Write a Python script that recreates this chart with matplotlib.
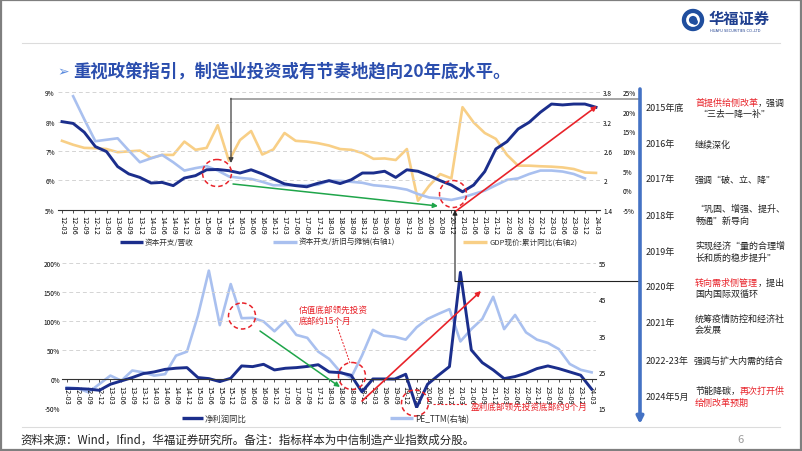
import numpy as np
import matplotlib
matplotlib.use('Agg')
import matplotlib.pyplot as plt
from matplotlib.patches import Ellipse, Rectangle, Circle

plt.rcParams['font.family'] = ['Noto Sans CJK SC', 'DejaVu Sans']
plt.rcParams['axes.unicode_minus'] = False

# ---------------- data ----------------
quarters = ['12-03', '12-06', '12-09', '12-12', '13-03', '13-06', '13-09', '13-12',
            '14-03', '14-06', '14-09', '14-12', '15-03', '15-06', '15-09', '15-12',
            '16-03', '16-06', '16-09', '16-12', '17-03', '17-06', '17-09', '17-12',
            '18-03', '18-06', '18-09', '18-12', '19-03', '19-06', '19-09', '19-12',
            '20-03', '20-06', '20-09', '20-12', '21-03', '21-06', '21-09', '21-12',
            '22-03', '22-06', '22-09', '22-12', '23-03', '23-06', '23-09', '23-12',
            '24-03']

# top chart
capex_rev = [8.0, 7.94, 7.64, 7.15, 6.98, 6.47, 6.22, 6.1,
             5.91, 5.93, 5.82, 6.08, 6.16, 6.36, 6.37, 6.33,
             6.25, 6.36, 6.22, 6.05, 5.88, 5.82, 5.78, 5.9,
             5.99, 5.89, 6.02, 6.25, 6.25, 6.31, 6.1, 6.36,
             6.31, 6.16, 5.99, 5.84, 5.61, 5.84, 6.3, 7.07,
             7.32, 7.75, 7.98, 8.32, 8.6, 8.57, 8.6, 8.6,
             8.49]
capex_da = [np.nan, 3.72, 3.25, 2.80, 2.83, 2.86, 2.61, 2.37,
            2.45, 2.52, 2.37, 2.20, 2.25, 2.29, 2.20, 2.08,
            2.05, 2.03, 1.97, 1.90, 1.90, 1.90, 1.90, 1.91,
            1.99, 1.99, 1.97, 1.95, 1.90, 1.88, 1.85, 1.81,
            1.72, 1.65, 1.63, 1.60, 1.65, 1.72, 1.79, 1.90,
            2.01, 2.04, 2.13, 2.20, 2.20, 2.18, 2.13, 2.04,
            np.nan]
gdp_yoy = [12.6, 11.6, 10.8, 10.7, 10.5, 9.7, 9.9, 10.1,
           8.2, 9.0, 9.0, 12.4, 10.3, 10.8, 16.6, 7.5,
           12.8, 15.1, 9.1, 10.4, 14.6, 12.6, 12.4, 12.0,
           11.4, 10.5, 10.3, 9.5, 8.0, 8.1, 7.7, 10.5,
           -2.7, 1.1, 4.1, 3.0, 21.2, 17.3, 14.6, 13.1,
           9.0, 6.25, 6.25, 6.1, 6.0, 5.8, 5.4, 4.5,
           4.4]

# bottom chart
profit_yoy = [-16, -16, -17, -19, -8.6, -2.9, 2.9, 9.7,
              12.6, 17, 19, 20, 2.9, 1.1, -4, 1.7,
              22.9, 21.7, 25.7, 16, 18.9, 20, 22, 25,
              12.6, 11.4, 6.9, -21.7, 0.5, 0.5, 0.3, 8.6,
              -48.6, -8.6, 6.9, 21.7, 184, 50.3, 28.6, 16,
              1.1, 4.6, 10.3, 18.3, 22.9, 18.3, 12.6, 6.9,
              -17]
pe_ttm = [20.8, 20.5, 19.4, 21.7, 24.0, 22.6, 25.4, 24.9,
          24.0, 24.4, 29.5, 30.6, 40.5, 52.9, 37.9, 49.2,
          39.8, 39.9, 38.9, 36.2, 39.1, 35.2, 34.4, 30.6,
          28.6, 25.1, 23.4, 29.5, 36.6, 35.0, 34.7, 33.9,
          37.3, 39.6, 41.0, 42.3, 33.4, 36.8, 39.6, 45.7,
          36.8, 40.7, 35.9, 33.9, 33.0, 31.3, 27.2, 25.6,
          24.9]

timeline_years = ['2015年底', '2016年', '2017年', '2018年', '2019年',
                  '2020年', '2021年', '2022-23年', '2024年5月']

DARK = '#1B2E8C'
LIGHT = '#A9C0EF'
YEL = '#F8CF86'
RED = '#E8232A'
GREEN = '#1FA54A'
GRID = '#D4D4D4'

W, H = 802, 452
fig = plt.figure(figsize=(W / 100, H / 100), dpi=100)


def rect(l, t, r, b):
    return [l / W, 1 - b / H, (r - l) / W, (b - t) / H]


x = np.arange(len(quarters))
TICKFS = 4.7

# ---------------- top chart ----------------
ax1 = fig.add_axes(rect(57.55, 93.3, 600.45, 210.7))
ax1b = ax1.twinx()
ax1c = ax1.twinx()
ax1c.plot(x, gdp_yoy, color=YEL, lw=1.9, solid_joinstyle='round')
ax1b.plot(x, capex_da, color=LIGHT, lw=1.9, solid_joinstyle='round')
ax1.plot(x, capex_rev, color=DARK, lw=2.1, solid_joinstyle='round')
ax1.set_zorder(3); ax1.patch.set_visible(False)
ax1b.set_zorder(2); ax1c.set_zorder(1)

for a in (ax1, ax1b, ax1c):
    for s in ('top', 'left', 'right', 'bottom'):
        a.spines[s].set_visible(False)
ax1.spines['bottom'].set_visible(True)
ax1.spines['bottom'].set_color('#333333')
ax1.spines['bottom'].set_linewidth(0.8)

ax1.set_xlim(-0.4, len(quarters) - 0.6)
ax1.set_ylim(5, 9)
ax1.set_yticks([5, 6, 7, 8, 9])
ax1.set_yticklabels([f'{v}%' for v in [5, 6, 7, 8, 9]])
ax1.yaxis.grid(True, ls=(0, (4, 3)), color=GRID, lw=0.7)
ax1.set_axisbelow(True)
ax1.set_xticks(x)
ax1.set_xticklabels(quarters, rotation=-90, fontsize=TICKFS, family='DejaVu Sans')
ax1.tick_params(axis='x', length=2.5, width=0.6, pad=1.5, color='#333333')
ax1.tick_params(axis='y', length=0, pad=2, labelsize=TICKFS)

ax1b.set_ylim(1.4, 3.8)
ax1b.set_yticks([1.4, 2.0, 2.6, 3.2, 3.8])
ax1b.set_yticklabels(['1.4', '2', '2.6', '3.2', '3.8'])
ax1b.tick_params(axis='y', length=0, pad=2, labelsize=TICKFS)

ax1c.set_ylim(-5, 25)
ax1c.set_yticks([-5, 0, 5, 10, 15, 20, 25])
ax1c.set_yticklabels([f'{v}%' for v in [-5, 0, 5, 10, 15, 20, 25]])
ax1c.tick_params(axis='y', length=0, pad=16, labelsize=TICKFS)

# ---------------- bottom chart ----------------
ax2 = fig.add_axes(rect(62.3, 264, 596, 409.3))
ax2b = ax2.twinx()
ax2b.plot(x, pe_ttm, color=LIGHT, lw=1.9, solid_joinstyle='round')
ax2.plot(x, profit_yoy, color=DARK, lw=2.1, solid_joinstyle='round')
ax2.set_zorder(3); ax2.patch.set_visible(False)
ax2b.set_zorder(2)
for a in (ax2, ax2b):
    for s in ('top', 'left', 'right', 'bottom'):
        a.spines[s].set_visible(False)
ax2.spines['bottom'].set_position(('data', 0))
ax2.spines['bottom'].set_visible(True)
ax2.spines['bottom'].set_color('#333333')
ax2.spines['bottom'].set_linewidth(0.8)

ax2.set_xlim(-0.4, len(quarters) - 0.6)
ax2.set_ylim(-50, 200)
yt = [-50, 0, 50, 100, 150, 200]
ax2.set_yticks(yt)
ax2.set_yticklabels([f'{v}%' for v in yt])
ax2.set_axisbelow(True)
for v in [50, 100, 150, 200]:
    ax2.axhline(v, ls=(0, (4, 3)), color=GRID, lw=0.7, zorder=0)
ax2.set_xticks(x)
ax2.set_xticklabels(quarters, rotation=-90, fontsize=TICKFS, family='DejaVu Sans')
ax2.tick_params(axis='x', length=2.5, width=0.6, pad=1.5, color='#333333')
ax2.tick_params(axis='y', length=0, pad=1.5, labelsize=TICKFS)
ax2b.set_ylim(15, 55)
ax2b.set_yticks([15, 25, 35, 45, 55])
ax2b.tick_params(axis='y', length=0, pad=2, labelsize=TICKFS)

# ---------------- overlay (pixel coordinates) ----------------
ov = fig.add_axes([0, 0, 1, 1])
ov.set_xlim(0, W)
ov.set_ylim(H, 0)
ov.axis('off')
ov.set_zorder(10)

# border & separator lines
ov.add_patch(Rectangle((0.8, 0.8), W - 1.6, H - 1.6, fill=False, ec='#7F7F7F', lw=1.6))
ov.plot([22, 780], [44, 44], color='#DCDCDC', lw=0.8)
ov.plot([22, 780], [428, 428], color='#DCDCDC', lw=0.8)

# logo
ov.add_patch(Circle((693, 21), 10.5, color='#1F4E9E'))
ov.add_patch(Circle((693, 21), 5.5, fill=False, ec='white', lw=2.0))
ov.add_patch(Circle((695, 23), 2.2, color='#1F4E9E'))
ov.text(709, 18.5, '华福证券', fontsize=11, fontweight='bold', color='#1F3F8F', va='center', ha='left')
ov.text(710, 31, 'HUAFU SECURITIES CO.,LTD', fontsize=2.6, color='#1F3F8F', va='center', ha='left',
        family='DejaVu Sans')

# title
ov.text(57, 72, '➢', fontsize=10, color='#5B8BDF', va='center', ha='left', family=['DejaVu Sans'])
ov.text(73, 71, '重视政策指引，制造业投资或有节奏地趋向20年底水平。', fontsize=12.5,
        fontweight='bold', color='#2B4EAE', va='center', ha='left')

# top legend
LFS = 5.5
for (x0, x1, c, lbl) in [(120, 143, DARK, '资本开支/营收'),
                         (273, 297, LIGHT, '资本开支/折旧与摊销(右轴1)'),
                         (463, 487, YEL, 'GDP现价:累计同比(右轴2)')]:
    ov.plot([x0, x1], [243, 243], color=c, lw=2.4, solid_capstyle='butt')
    ov.text(x1 + 2, 243, lbl, fontsize=LFS, va='center', ha='left', color='#333333')

# bottom legend
for (x0, x1, c, lbl) in [(182, 203, DARK, '净利润同比'),
                         (390, 413, LIGHT, 'PE_TTM(右轴)')]:
    ov.plot([x0, x1], [419, 419], color=c, lw=2.4, solid_capstyle='butt')
    ov.text(x1 + 2, 419.5, lbl, fontsize=6.0, va='center', ha='left', color='#333333')

# top annotations
ov.plot([231, 640], [100, 100], color='#A6A6A6', lw=1.4)
ov.annotate('', xy=(231, 164), xytext=(231, 99.3),
            arrowprops=dict(arrowstyle='-|>', color='#404040', lw=0.9, mutation_scale=7, shrinkA=0, shrinkB=0))
ov.add_patch(Ellipse((217, 174), 29, 27, fill=False, ec=RED, lw=1.1, ls=(0, (3, 2))))
ov.annotate('', xy=(438, 207), xytext=(233, 185),
            arrowprops=dict(arrowstyle='-|>', color=GREEN, lw=1.1, mutation_scale=7, shrinkA=0, shrinkB=0))
ov.add_patch(Ellipse((453, 195), 27, 27, fill=False, ec=RED, lw=1.1, ls=(0, (3, 2))))
ov.annotate('', xy=(597, 107), xytext=(456, 212),
            arrowprops=dict(arrowstyle='-|>', color=RED, lw=1.2, mutation_scale=7, shrinkA=0, shrinkB=0))
# black connector
ov.plot([455, 640], [282, 282], color='#222222', lw=0.8)
ov.annotate('', xy=(455, 211), xytext=(455, 282.4),
            arrowprops=dict(arrowstyle='-|>', color='#222222', lw=0.8, mutation_scale=7, shrinkA=0, shrinkB=0))

# bottom annotations
ov.add_patch(Ellipse((242, 317), 27, 26, fill=False, ec=RED, lw=1.1, ls=(0, (3, 2))))
ov.annotate('', xy=(340, 388), xytext=(260, 332),
            arrowprops=dict(arrowstyle='-|>', color=GREEN, lw=1.1, mutation_scale=7, shrinkA=0, shrinkB=0))
ov.text(299, 316, '估值底部领先投资\n底部约15个月', fontsize=6.2, color=RED, va='center', ha='left',
        linespacing=1.35)
ov.plot([337, 350], [327, 364], color=RED, lw=0.7, ls=(0, (2, 1.5)))
ov.add_patch(Ellipse((352, 377), 27, 27, fill=False, ec=RED, lw=1.1, ls=(0, (3, 2))))
ov.annotate('', xy=(481, 292), xytext=(362, 402),
            arrowprops=dict(arrowstyle='-|>', color=RED, lw=1.2, mutation_scale=7, shrinkA=0, shrinkB=0))
ov.add_patch(Ellipse((415, 404), 27, 26, fill=False, ec=RED, lw=1.1, ls=(0, (3, 2))))
ov.plot([433, 468], [405, 405], color=RED, lw=0.8, ls=(0, (2, 1.5)))
ov.text(471, 407.5, '盈利底部领先投资底部约9个月', fontsize=6.2, color=RED, va='center', ha='left')

# timeline
ov.annotate('', xy=(640, 425), xytext=(640, 90),
            arrowprops=dict(arrowstyle='-|>', color='#4472C4', lw=2.6, mutation_scale=10, shrinkA=0, shrinkB=0))
TFS = 6.5
year_y = [109, 145, 180, 216.5, 252.5, 288, 324, 361.5, 397]
for yy, lbl in zip(year_y, timeline_years):
    ov.text(646, yy, lbl, fontsize=TFS, va='center', ha='left', color='#222222')

DX = 695


def seg(xx, yy, parts):
    prev = None
    for txt, col in parts:
        if prev is None:
            prev = ov.text(xx, yy, txt, fontsize=TFS, color=col, va='center', ha='left')
        else:
            prev = ov.annotate(txt, xy=(1, 0.5), xycoords=prev, fontsize=TFS, color=col,
                               va='center', ha='left')


seg(DX, 103, [('首提供给侧改革', RED), ('，强调', '#222222')])
seg(DX + 3, 114, [('“三去一降一补”', '#222222')])
seg(DX, 145, [('继续深化', '#222222')])
seg(DX, 180, [('强调“破、立、降”', '#222222')])
seg(DX, 209, [('“巩固、增强、提升、', '#222222')])
seg(DX, 221.5, [('畅通”新导向', '#222222')])
seg(DX, 246, [('实现经济“量的合理增', '#222222')])
seg(DX, 258, [('长和质的稳步提升”', '#222222')])
seg(DX, 283, [('转向需求侧管理', RED), ('，提出', '#222222')])
seg(DX, 294.5, [('国内国际双循环', '#222222')])
seg(DX, 319, [('统筹疫情防控和经济社', '#222222')])
seg(DX, 330.5, [('会发展', '#222222')])
seg(DX - 1, 361.5, [('强调与扩大内需的结合', '#222222')])
seg(DX, 391.5, [('节能降碳，', '#222222'), ('再次打开供', RED)])
seg(DX, 403, [('给侧改革预期', RED)])

# footer
ov.text(20, 440, '资料来源：Wind，Ifind，华福证券研究所。备注：指标样本为中信制造产业指数成分股。',
        fontsize=8.3, color='#222222', va='center', ha='left')
ov.text(737, 440, '6', fontsize=8, color='#9A9A9A', va='center', ha='left')

fig.savefig('out.png', dpi=100)
